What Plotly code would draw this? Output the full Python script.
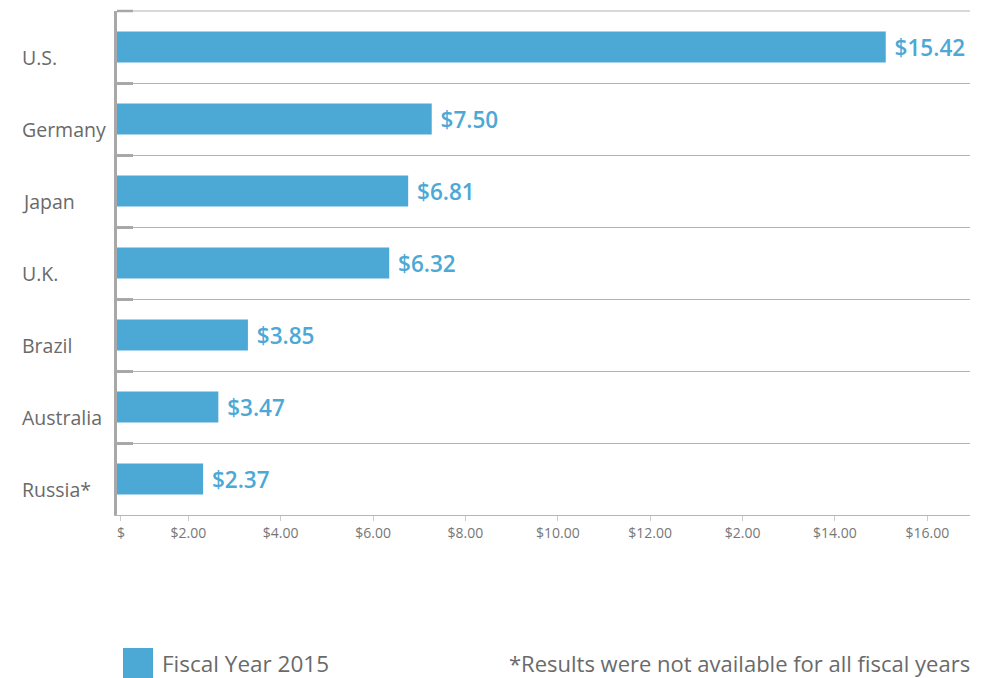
import plotly.graph_objects as go

# ---- data ----
countries = ["U.S.", "Germany", "Japan", "U.K.", "Brazil", "Australia", "Russia*"]
values = [15.42, 7.50, 6.81, 6.32, 3.85, 3.47, 2.37]          # labelled values
bar_lengths = [17.10, 7.27, 6.76, 6.35, 3.29, 2.65, 2.32]      # bar extents read on the drawn axis
x_tick_vals = [0.54, 2, 4, 6, 8, 10, 12, 14, 16, 18]
x_tick_text = ["$", "$2.00", "$4.00", "$6.00", "$8.00", "$10.00", "$12.00", "$2.00", "$14.00", "$16.00"]
legend_label = "Fiscal Year 2015"
footnote = "*Results were not available for all fiscal years"

BLUE = "#4ca8d5"
GRAY_TEXT = "#6a6a6a"
AXIS_GRAY = "#a8a8a8"
GRID_GRAY = "#b3b3b3"
FONT = "Open Sans"

idx = list(range(len(countries)))

fig = go.Figure()
fig.add_trace(go.Bar(
    x=bar_lengths,
    y=idx,
    orientation="h",
    width=0.43,
    marker=dict(color=BLUE, line=dict(width=0)),
    text=["\u00a0$%.2f" % v for v in values],
    textposition="outside",
    cliponaxis=False,
    textfont=dict(family=FONT, size=24, color=BLUE, weight=600),
    showlegend=False,
    hoverinfo="skip",
))

# category labels (left aligned)
for i, c in zip(idx, countries):
    fig.add_annotation(
        x=-0.1114, xref="paper", y=i, yref="y",
        text=c, showarrow=False, xanchor="left", yanchor="middle",
        xshift=-2, yshift=-10,
        font=dict(family=FONT, size=19.5, color=GRAY_TEXT),
    )

# top border line and tick stub
fig.add_shape(type="line", xref="paper", yref="paper", x0=0, x1=1, y0=1, y1=1,
              line=dict(color=GRID_GRAY, width=1), layer="below")
fig.add_shape(type="line", xref="paper", yref="paper", x0=0, x1=0.01876, y0=1, y1=1,
              line=dict(color=AXIS_GRAY, width=2.5))

# legend (manual, large swatch)
fig.add_shape(type="rect", xref="paper", yref="paper",
              x0=0.0070, x1=0.0422, y0=-0.2639, y1=-0.3234,
              fillcolor=BLUE, line=dict(width=0))
fig.add_annotation(x=0.0528, xref="paper", y=-0.2937, yref="paper",
                   text=legend_label, showarrow=False, xanchor="left", yanchor="middle",
                   xshift=-2,
                   font=dict(family=FONT, size=22.5, color=GRAY_TEXT))
fig.add_annotation(x=1.0, xref="paper", y=-0.2937, yref="paper",
                   text=footnote, showarrow=False, xanchor="right", yanchor="middle",
                   xshift=2,
                   font=dict(family=FONT, size=22, color=GRAY_TEXT))

fig.update_layout(
    width=1001, height=678,
    margin=dict(l=117, r=31, t=11, b=163),
    paper_bgcolor="white", plot_bgcolor="white",
    xaxis=dict(
        range=[0.456, 18.924],
        tickvals=x_tick_vals, ticktext=x_tick_text,
        showgrid=False, zeroline=False,
        showline=True, linecolor="#b5b5b5", linewidth=1,
        ticks="outside", ticklen=5, tickcolor="#cccccc", tickwidth=1,
        tickfont=dict(family=FONT, size=14, color="#777777"),
    ),
    yaxis=dict(
        range=[6.5, -0.5],
        tickvals=[i - 0.5 for i in range(len(countries) + 1)],
        ticktext=[""] * (len(countries) + 1),
        showgrid=True, gridcolor=GRID_GRAY, gridwidth=1,
        zeroline=False,
        showline=True, linecolor=AXIS_GRAY, linewidth=2.5,
        ticks="inside", ticklen=16, tickcolor=AXIS_GRAY, tickwidth=2.5,
    ),
)

fig.write_html("out.html")
